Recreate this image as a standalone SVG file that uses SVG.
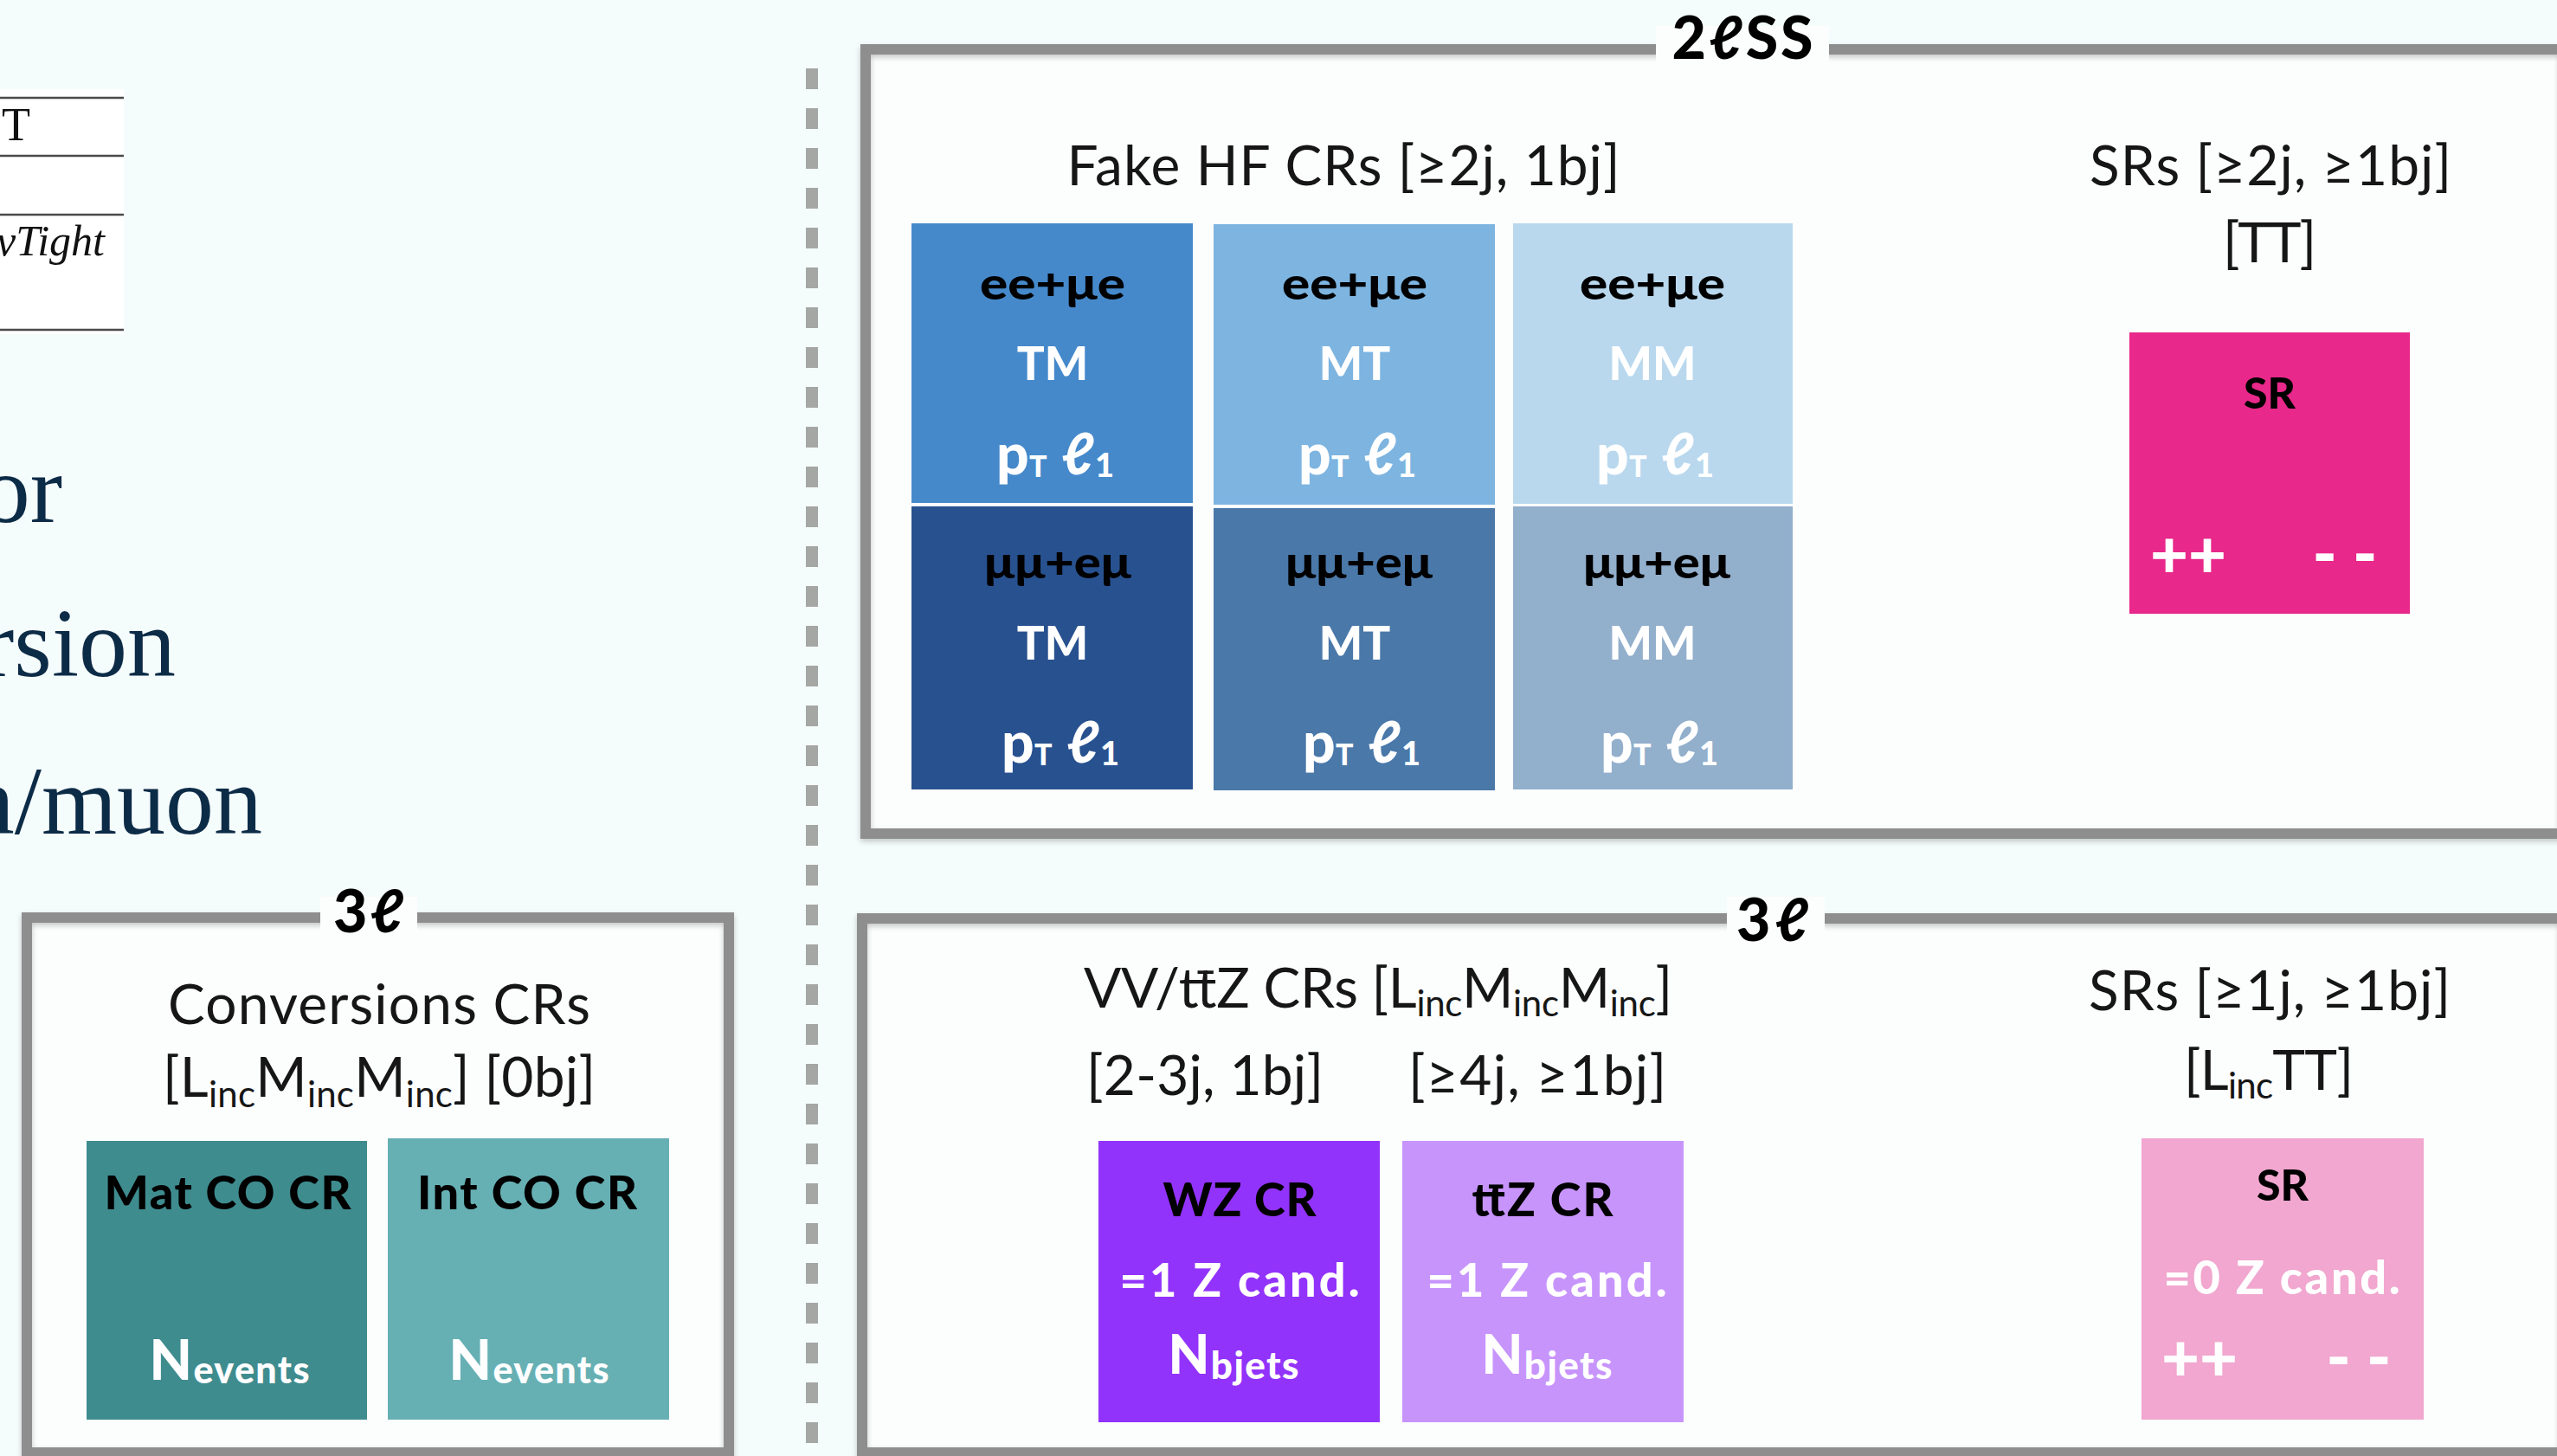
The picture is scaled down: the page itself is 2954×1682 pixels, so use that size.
<svg xmlns="http://www.w3.org/2000/svg" width="2954" height="1682" viewBox="0 0 2954 1682">
  <defs>
    <filter id="shadow" x="-2%" y="-2%" width="104%" height="104%">
      <feDropShadow dx="0" dy="3" stdDeviation="3" flood-color="#000" flood-opacity="0.22"/>
    </filter>
  </defs>
  <style>
    .panel-fill { fill: #fcfdfd; }
    .panel-edge { fill: none; stroke: #8e8e8e; stroke-width: 12; filter: url(#shadow); }
    .gap { fill: #fcfdfd; }
    .tag { font-family: Lato, "Open Sans", "DejaVu Sans", sans-serif; font-weight: 900; font-size: 68px; fill: #000; text-anchor: middle; }
    .title { font-family: Lato, "Open Sans", sans-serif; font-weight: 400; font-size: 64px; fill: #161616; text-anchor: middle; }
    .sub { font-size: 42px; }
    .lbl { font-family: Lato, "Open Sans", "DejaVu Sans", sans-serif; font-weight: 900; text-anchor: middle; }
    .blk { fill: #000; }
    .wht { fill: #fff; }
    .serif { font-family: "Liberation Serif", "Times New Roman", serif; }
    .big { font-size: 112px; fill: #0c2b47; text-anchor: end; }
  </style>

  <!-- page background -->
  <rect x="0" y="0" width="2954" height="1682" fill="#f5fcfc"/>

  <!-- top-left: edge of a table -->
  <g id="table-fragment">
    <rect x="0" y="103" width="143" height="283" fill="#ffffff"/>
    <g stroke="#4a4a4a" stroke-width="2.5">
      <line x1="0" y1="113" x2="143" y2="113"/>
      <line x1="0" y1="180" x2="143" y2="180"/>
      <line x1="0" y1="248" x2="143" y2="248"/>
      <line x1="0" y1="381" x2="143" y2="381"/>
    </g>
    <text class="serif" x="35" y="162" font-size="54" text-anchor="end" fill="#111">T</text>
    <text class="serif" x="121" y="295" font-size="50" font-style="italic" text-anchor="end" fill="#111">vTight</text>
  </g>

  <!-- left: bullet text running in from the page edge -->
  <g id="bullet-text" class="serif big">
    <text x="72" y="603">or</text>
    <text x="203" y="781">rsion</text>
    <text x="303" y="963">n/muon</text>
  </g>

  <!-- dashed separator -->
  <line id="separator" x1="938" y1="79" x2="938" y2="1682" stroke="#a4a7a4" stroke-width="14" stroke-dasharray="24 22"/>

  <!-- 3l conversions panel -->
  <g id="panel-3l-conv">
    <rect class="panel-fill" x="31" y="1060" width="811" height="618"/>
    <rect class="panel-edge" x="31" y="1060" width="811" height="618"/>
    <rect class="gap" x="370" y="1036" width="112" height="44"/>
    <text class="tag" x="426" y="1077" textLength="82">3ℓ</text>
    <text class="title" x="438" y="1183" textLength="488">Conversions CRs</text>
    <text class="title" x="438" y="1267" textLength="500">[L<tspan class="sub" dy="12">inc</tspan><tspan dy="-12">M</tspan><tspan class="sub" dy="12">inc</tspan><tspan dy="-12">M</tspan><tspan class="sub" dy="12">inc</tspan><tspan dy="-12">] [0bj]</tspan></text>
  </g>

  <g id="node-mat-co-cr">
    <rect x="100" y="1318" width="324" height="322" fill="#3f8c8f"/>
    <text class="lbl blk" x="263" y="1397" font-size="54" textLength="285">Mat CO CR</text>
    <text class="lbl wht" x="265" y="1594" font-size="64" textLength="185">N<tspan font-size="43" dy="4">events</tspan></text>
  </g>
  <g id="node-int-co-cr">
    <rect x="448" y="1315" width="325" height="325" fill="#66b0b4"/>
    <text class="lbl blk" x="609" y="1397" font-size="54" textLength="254">Int CO CR</text>
    <text class="lbl wht" x="611" y="1594" font-size="64" textLength="185">N<tspan font-size="43" dy="4">events</tspan></text>
  </g>

  <!-- 2lSS panel -->
  <g id="panel-2lss">
    <rect class="panel-fill" x="1000" y="57" width="1962" height="906"/>
    <rect class="panel-edge" x="1000" y="57" width="1962" height="906"/>
    <rect class="gap" x="1913" y="30" width="200" height="48"/>
    <text class="tag" x="2013" y="68" textLength="163">2ℓSS</text>
    <text class="title" x="1552" y="214" textLength="639">Fake HF CRs [≥2j, 1bj]</text>
    <text class="title" x="2623" y="214" textLength="418">SRs [≥2j, ≥1bj]</text>
    <text class="title" x="2622" y="303" textLength="108">[TT]</text>
  </g>

  <!-- fake HF control regions, top row: ee+mue -->
  <g id="node-ee-tm">
    <rect x="1053" y="258" width="325" height="323" fill="#4589cb"/>
    <text class="lbl blk" x="1216" y="346" font-size="52" textLength="168" lengthAdjust="spacingAndGlyphs">ee+μe</text>
    <text class="lbl wht" x="1216" y="439" font-size="53">TM</text>
    <text class="lbl wht" x="1219" y="548" font-size="66" textLength="136">p<tspan font-size="34" dy="3">T</tspan><tspan dy="-3"> ℓ</tspan><tspan font-size="38" dy="3">1</tspan></text>
  </g>
  <g id="node-ee-mt">
    <rect x="1402" y="259" width="325" height="324" fill="#7db4e0"/>
    <text class="lbl blk" x="1565" y="346" font-size="52" textLength="168" lengthAdjust="spacingAndGlyphs">ee+μe</text>
    <text class="lbl wht" x="1565" y="439" font-size="53">MT</text>
    <text class="lbl wht" x="1568" y="548" font-size="66" textLength="136">p<tspan font-size="34" dy="3">T</tspan><tspan dy="-3"> ℓ</tspan><tspan font-size="38" dy="3">1</tspan></text>
  </g>
  <g id="node-ee-mm">
    <rect x="1748" y="258" width="323" height="324" fill="#b9d8ee"/>
    <text class="lbl blk" x="1909" y="346" font-size="52" textLength="168" lengthAdjust="spacingAndGlyphs">ee+μe</text>
    <text class="lbl wht" x="1909" y="439" font-size="53">MM</text>
    <text class="lbl wht" x="1912" y="548" font-size="66" textLength="136">p<tspan font-size="34" dy="3">T</tspan><tspan dy="-3"> ℓ</tspan><tspan font-size="38" dy="3">1</tspan></text>
  </g>

  <!-- fake HF control regions, bottom row: mumu+emu -->
  <g id="node-mm-tm">
    <rect x="1053" y="585" width="325" height="327" fill="#28518f"/>
    <text class="lbl blk" x="1222" y="668" font-size="52" textLength="170" lengthAdjust="spacingAndGlyphs">μμ+eμ</text>
    <text class="lbl wht" x="1216" y="762" font-size="53">TM</text>
    <text class="lbl wht" x="1225" y="881" font-size="66" textLength="136">p<tspan font-size="34" dy="3">T</tspan><tspan dy="-3"> ℓ</tspan><tspan font-size="38" dy="3">1</tspan></text>
  </g>
  <g id="node-mm-mt">
    <rect x="1402" y="587" width="325" height="326" fill="#4a78a9"/>
    <text class="lbl blk" x="1570" y="668" font-size="52" textLength="170" lengthAdjust="spacingAndGlyphs">μμ+eμ</text>
    <text class="lbl wht" x="1565" y="762" font-size="53">MT</text>
    <text class="lbl wht" x="1573" y="881" font-size="66" textLength="136">p<tspan font-size="34" dy="3">T</tspan><tspan dy="-3"> ℓ</tspan><tspan font-size="38" dy="3">1</tspan></text>
  </g>
  <g id="node-mm-mm">
    <rect x="1748" y="585" width="323" height="327" fill="#92afcc"/>
    <text class="lbl blk" x="1914" y="668" font-size="52" textLength="170" lengthAdjust="spacingAndGlyphs">μμ+eμ</text>
    <text class="lbl wht" x="1909" y="762" font-size="53">MM</text>
    <text class="lbl wht" x="1917" y="881" font-size="66" textLength="136">p<tspan font-size="34" dy="3">T</tspan><tspan dy="-3"> ℓ</tspan><tspan font-size="38" dy="3">1</tspan></text>
  </g>

  <!-- 2lSS signal region -->
  <g id="node-sr-2lss">
    <rect x="2460" y="384" width="324" height="325" fill="#e8288a"/>
    <text class="lbl blk" x="2622" y="472" font-size="50">SR</text>
    <text class="lbl wht" x="2528" y="667" font-size="76">++</text>
    <text class="lbl wht" x="2709" y="667" font-size="76">- -</text>
  </g>

  <!-- 3l panel with VV / ttZ control regions and signal region -->
  <g id="panel-3l">
    <rect class="panel-fill" x="996" y="1061" width="1966" height="617"/>
    <rect class="panel-edge" x="996" y="1061" width="1966" height="617"/>
    <rect class="gap" x="1995" y="1036" width="113" height="50"/>
    <text class="tag" x="2048" y="1087" textLength="84">3ℓ</text>
    <text class="title" x="1592" y="1164" textLength="680">VV/tt&#x304;Z CRs [L<tspan class="sub" dy="10">inc</tspan><tspan dy="-10">M</tspan><tspan class="sub" dy="10">inc</tspan><tspan dy="-10">M</tspan><tspan class="sub" dy="10">inc</tspan><tspan dy="-10">]</tspan></text>
    <text class="title" x="1392" y="1265" textLength="274">[2-3j, 1bj]</text>
    <text class="title" x="1776" y="1265" textLength="298">[≥4j, ≥1bj]</text>
    <text class="title" x="2622" y="1167" textLength="418">SRs [≥1j, ≥1bj]</text>
    <text class="title" x="2621" y="1259" textLength="196">[L<tspan class="sub" dy="10">inc</tspan><tspan dy="-10">TT]</tspan></text>
  </g>

  <g id="node-wz-cr">
    <rect x="1269" y="1318" width="325" height="325" fill="#9233fb"/>
    <text class="lbl blk" x="1432" y="1405" font-size="54" textLength="177">WZ CR</text>
    <text class="lbl wht" x="1432" y="1498" font-size="54" textLength="277">=1 Z cand.</text>
    <text class="lbl wht" x="1425" y="1587" font-size="62" textLength="151">N<tspan font-size="44" dy="6">bjets</tspan></text>
  </g>
  <g id="node-ttz-cr">
    <rect x="1620" y="1318" width="325" height="325" fill="#c794fc"/>
    <text class="lbl blk" x="1782" y="1405" font-size="54" textLength="163">tt&#x304;Z CR</text>
    <text class="lbl wht" x="1787" y="1498" font-size="54" textLength="277">=1 Z cand.</text>
    <text class="lbl wht" x="1787" y="1587" font-size="62" textLength="151">N<tspan font-size="44" dy="6">bjets</tspan></text>
  </g>
  <g id="node-sr-3l">
    <rect x="2474" y="1315" width="326" height="325" fill="#f1a7cf"/>
    <text class="lbl blk" x="2637" y="1387" font-size="50">SR</text>
    <text class="lbl wht" x="2636" y="1495" font-size="54" textLength="273">=0 Z cand.</text>
    <text class="lbl wht" x="2541" y="1595" font-size="76">++</text>
    <text class="lbl wht" x="2725" y="1595" font-size="76">- -</text>
  </g>

  <!-- no connectors are drawn between the regions -->
  <g id="connectors"/>
</svg>
